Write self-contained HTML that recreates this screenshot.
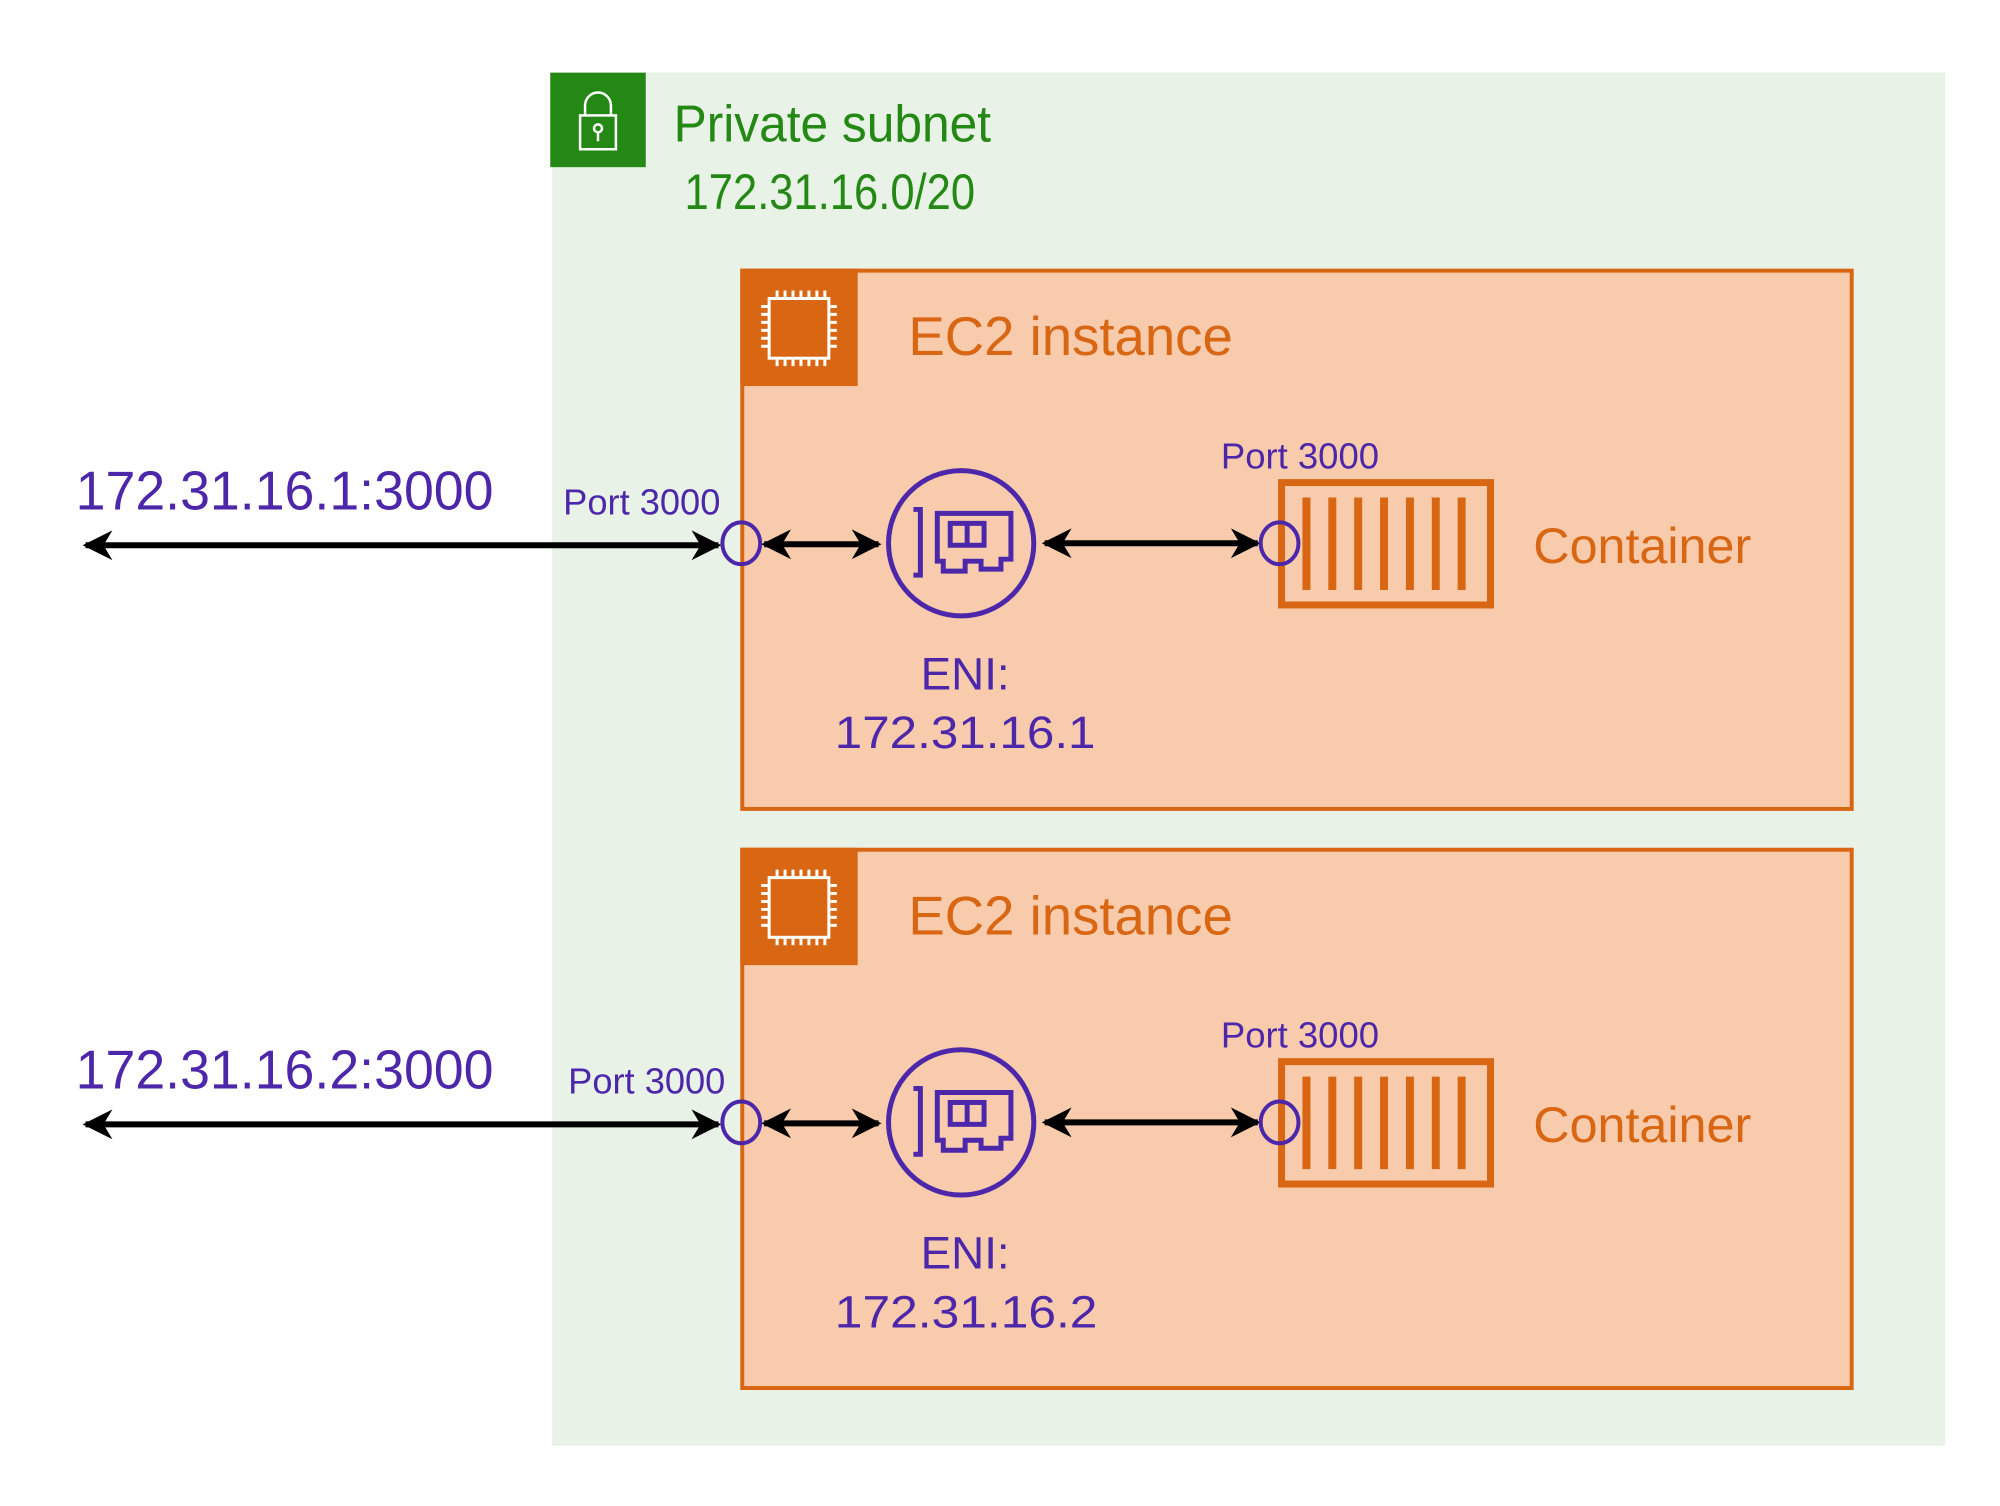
<!DOCTYPE html>
<html><head><meta charset="utf-8"><style>
html,body{margin:0;padding:0;background:#fff;}
svg{display:block;}
text{font-family:"Liberation Sans",Arial,sans-serif;}
</style></head><body>
<svg width="2000" height="1506" viewBox="0 0 2000 1506" xmlns="http://www.w3.org/2000/svg">
<defs>
<marker id="ah" viewBox="0 0 10 10" refX="9" refY="5" markerWidth="5" markerHeight="5" orient="auto-start-reverse" markerUnits="strokeWidth">
<path d="M0,0 L10,5 L0,10 L3,5 z" fill="#000"/>
</marker>
<g id="row">
  <rect x="746" y="272" width="1115" height="541" fill="#f7cbac" stroke="#d86613" stroke-width="4"/>
  <rect x="744" y="270" width="118" height="118" fill="#d86613"/>
  <g stroke="#fff" stroke-width="3" fill="none">
    <rect x="773" y="300" width="60" height="60"/>
    <path d="M781,300v-8M789,300v-8M797,300v-8M805,300v-8M813,300v-8M821,300v-8M829,300v-8
             M781,360v8M789,360v8M797,360v8M805,360v8M813,360v8M821,360v8M829,360v8
             M773,308h-8M773,316h-8M773,324h-8M773,332h-8M773,340h-8M773,348h-8
             M833,308h8M833,316h8M833,324h8M833,332h8M833,340h8M833,348h8"/>
  </g>
  <text x="913" y="357" font-size="55" fill="#d86613" textLength="326" lengthAdjust="spacingAndGlyphs">EC2 instance</text>
  <line x1="86" y1="548" x2="722" y2="548" stroke="#000" stroke-width="6" marker-start="url(#ah)" marker-end="url(#ah)"/>
  <line x1="768" y1="547" x2="883" y2="547" stroke="#000" stroke-width="6" marker-start="url(#ah)" marker-end="url(#ah)"/>
  <line x1="1050" y1="546" x2="1264" y2="546" stroke="#000" stroke-width="6" marker-start="url(#ah)" marker-end="url(#ah)"/>
  <ellipse cx="745" cy="546" rx="19" ry="21" fill="none" stroke="#4d27aa" stroke-width="4"/>
  <circle cx="966" cy="546" r="73" fill="none" stroke="#4d27aa" stroke-width="5"/>
  <g stroke="#4d27aa" stroke-width="5" fill="none">
    <path d="M918,512h7v66h-7"/>
    <path d="M942,516h74v46h-10v10h-20v-8h-16v10h-22v-10h-6z"/>
    <rect x="955" y="526" width="34" height="22"/>
    <line x1="972" y1="526" x2="972" y2="548"/>
  </g>
  <rect x="1288" y="485" width="210" height="123" fill="none" stroke="#d86613" stroke-width="7"/>
  <g stroke="#d86613" stroke-width="8">
    <path d="M1313,500v93M1339,500v93M1365,500v93M1391,500v93M1417,500v93M1443,500v93M1469,500v93"/>
  </g>
  <ellipse cx="1286" cy="546" rx="19" ry="21" fill="none" stroke="#4d27aa" stroke-width="4"/>
  <text x="1541" y="566" font-size="50" fill="#d86613" textLength="219" lengthAdjust="spacingAndGlyphs">Container</text>
  <text x="1227" y="471" font-size="36" fill="#4d27aa" textLength="159" lengthAdjust="spacingAndGlyphs">Port 3000</text>
  <text x="970" y="693" font-size="46" fill="#4d27aa" text-anchor="middle">ENI:</text>
</g>
</defs>
<g transform="scale(0.995)">
<rect x="555" y="73" width="1400" height="1380" fill="#e8f2e6"/>
<rect x="553" y="73" width="96" height="95" fill="#248814"/>
<g stroke="#fff" stroke-width="2.5" fill="none">
  <rect x="583" y="116" width="36" height="34"/>
  <path d="M588,116v-10a13,13 0 0 1 26,0v10"/>
  <circle cx="601" cy="129" r="4"/>
  <line x1="601" y1="133" x2="601" y2="142"/>
</g>
<text x="677" y="142" font-size="52" fill="#248814" textLength="319" lengthAdjust="spacingAndGlyphs">Private subnet</text>
<text x="688" y="210" font-size="50" fill="#248814" textLength="292" lengthAdjust="spacingAndGlyphs">172.31.16.0/20</text>

<use href="#row"/>
<text x="76" y="512" font-size="55" fill="#4d27aa" textLength="420" lengthAdjust="spacingAndGlyphs">172.31.16.1:3000</text>
<text x="566" y="517" font-size="36" fill="#4d27aa" textLength="158" lengthAdjust="spacingAndGlyphs">Port 3000</text>
<text x="970" y="752" font-size="46" fill="#4d27aa" text-anchor="middle" textLength="262" lengthAdjust="spacingAndGlyphs">172.31.16.1</text>

<use href="#row" y="582"/>
<text x="76" y="1094" font-size="55" fill="#4d27aa" textLength="420" lengthAdjust="spacingAndGlyphs">172.31.16.2:3000</text>
<text x="571" y="1099" font-size="36" fill="#4d27aa" textLength="158" lengthAdjust="spacingAndGlyphs">Port 3000</text>
<text x="971" y="1334" font-size="46" fill="#4d27aa" text-anchor="middle" textLength="264" lengthAdjust="spacingAndGlyphs">172.31.16.2</text>
</g>
</svg>
</body></html>
